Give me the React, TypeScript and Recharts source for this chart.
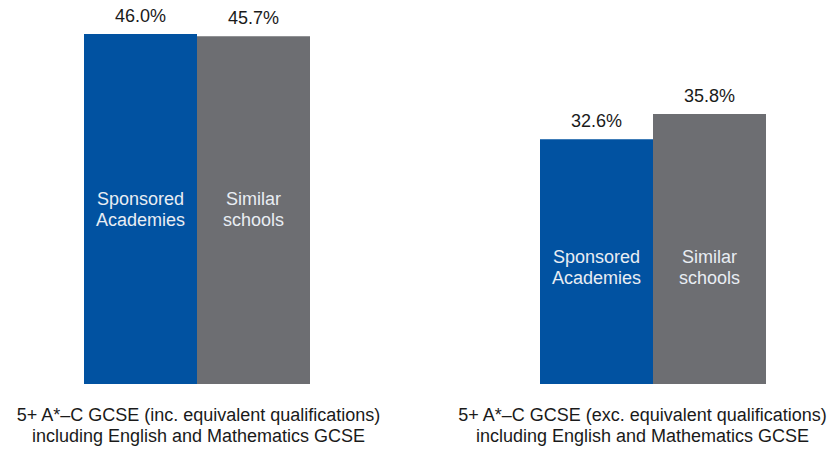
import React from "react";
import { BarChart, Bar, XAxis, YAxis, LabelList } from "recharts";

const categories = ["inc", "gap", "exc"];
const labelLine1 = [
  "5+ A*\u2013C GCSE (inc. equivalent qualifications)",
  "",
  "5+ A*\u2013C GCSE (exc. equivalent qualifications)",
];
const labelLine2 = [
  "including English and Mathematics GCSE",
  "",
  "including English and Mathematics GCSE",
];
const sponsored: (number | null)[] = [46.0, null, 32.6];
const similar: (number | null)[] = [45.7, null, 35.8];
const sponsoredName = ["Sponsored", "Academies"];
const similarName = ["Similar", "schools"];

const data = categories.map((c, i) => ({
  cat: c,
  sponsored: sponsored[i],
  similar: similar[i],
}));

const FONT = "'Liberation Sans', Arial, Helvetica, sans-serif";
const BLUE = "#0152A1";
const GREY = "#6D6E72";

const CategoryTick = (props: any) => {
  const { x, y, payload } = props;
  const i = categories.indexOf(payload.value);
  if (i < 0 || !labelLine1[i]) return null;
  const dx = i === 0 ? 2 : -10;
  return (
    <g>
      <text x={x + dx} y={y + 37} textAnchor="middle" fontSize={18} fill="#1a1a1a" fontFamily={FONT}>
        {labelLine1[i]}
      </text>
      <text x={x + dx} y={y + 58} textAnchor="middle" fontSize={18} fill="#1a1a1a" fontFamily={FONT}>
        {labelLine2[i]}
      </text>
    </g>
  );
};

const makeInnerLabel = (lines: string[], own: (number | null)[]) => (props: any) => {
  const { x, y, width, height, value } = props;
  const i = own.indexOf(Number(value));
  if (i < 0) return null;
  const v = own[i];
  const b = sponsored[i];
  if (v == null || b == null || !height) return null;
  const bottom = Number(y) + Number(height);
  const top = Number(y);
  // position relative to the sponsored bar of the same group
  const bTop = bottom - (bottom - top) * (b - 1.4) / (v - 1.4);
  const cy = (bTop + bottom) / 2 + (i === 0 ? 0 : 5);
  const cx = Number(x) + Number(width) / 2;
  return (
    <g>
      <text x={cx} y={cy - 4} textAnchor="middle" fontSize={18} fill="#E8EDF3" fontFamily={FONT}>
        {lines[0]}
      </text>
      <text x={cx} y={cy + 17} textAnchor="middle" fontSize={18} fill="#E8EDF3" fontFamily={FONT}>
        {lines[1]}
      </text>
    </g>
  );
};

const valueLabel = (props: any) => {
  const { x, y, width, value } = props;
  if (value == null) return null;
  return (
    <text x={Number(x) + Number(width) / 2} y={Number(y) - 12} textAnchor="middle" fontSize={18} fill="#1a1a1a" fontFamily={FONT}>
      {Number(value).toFixed(1) + "%"}
    </text>
  );
};

export default function App() {
  return (
    <div style={{ position: "absolute", left: 0, top: 0, width: 838, height: 451, background: "#fff" }}>
      <BarChart
        width={838}
        height={451}
        data={data}
        margin={{ top: 34, right: 71.5, left: 82.5, bottom: 0 }}
        barCategoryGap={1.5}
        barGap={0}
      >
        <XAxis
          dataKey="cat"
          height={67}
          axisLine={false}
          tickLine={false}
          tickSize={0}
          tickMargin={0}
          interval={0}
          tick={<CategoryTick />}
        />
        <YAxis hide domain={[1.4, 46]} allowDataOverflow />
        <Bar dataKey="sponsored" fill={BLUE} isAnimationActive={false}>
          <LabelList dataKey="sponsored" content={valueLabel} />
          <LabelList dataKey="sponsored" content={makeInnerLabel(sponsoredName, sponsored)} />
        </Bar>
        <Bar dataKey="similar" fill={GREY} isAnimationActive={false}>
          <LabelList dataKey="similar" content={valueLabel} />
          <LabelList dataKey="similar" content={makeInnerLabel(similarName, similar)} />
        </Bar>
      </BarChart>
    </div>
  );
}
